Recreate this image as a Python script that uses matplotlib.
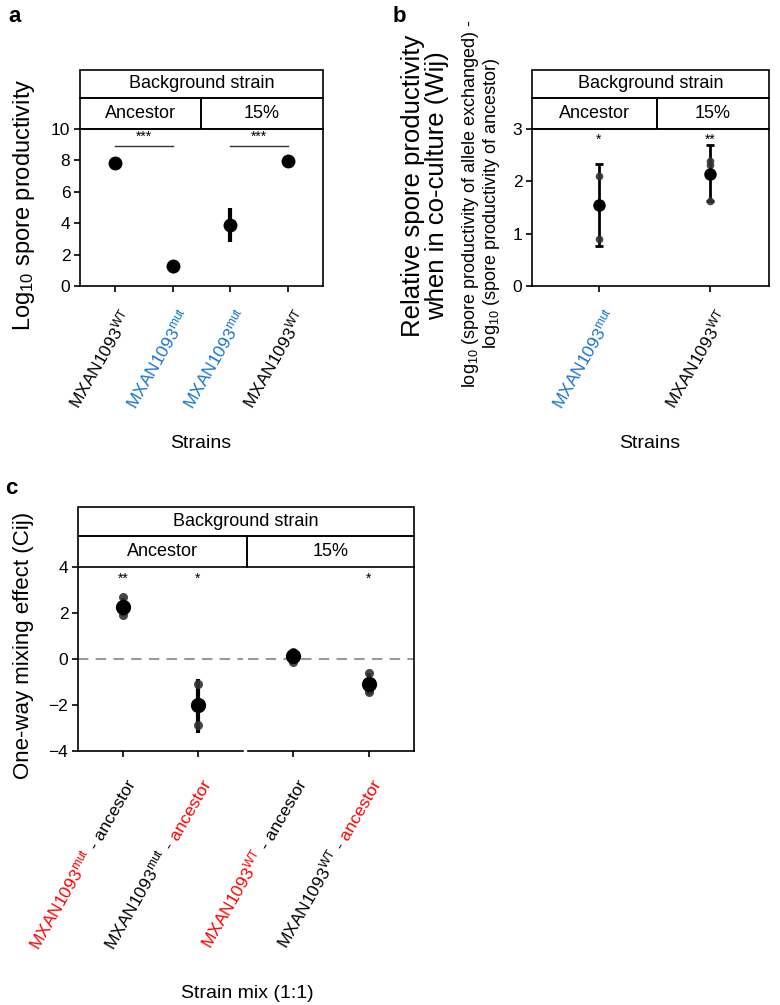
import numpy as np
import matplotlib
matplotlib.use("Agg")
import matplotlib.pyplot as plt
from matplotlib.patches import Rectangle

plt.rcParams['font.family'] = ['Liberation Sans', 'DejaVu Sans']
plt.rcParams['mathtext.fontset'] = 'custom'
plt.rcParams['mathtext.rm'] = 'Liberation Sans'
plt.rcParams['mathtext.it'] = 'Liberation Sans:italic'
plt.rcParams['mathtext.bf'] = 'Liberation Sans:bold'
plt.rcParams['axes.linewidth'] = 1.2

BLUE = '#1874CD'
RED = '#FF0000'
WT = r'MXAN1093$^{\mathrm{WT}}$'
MUT = r'MXAN1093$^{\mathrm{mut}}$'

# ---- panel a: spore productivity of single strains
a_labels = [WT, MUT, MUT, WT]
a_colors = ['black', BLUE, BLUE, 'black']
a_mean = [7.85, 1.3, 3.87, 7.95]
a_lo = [7.8, 1.2, 2.8, 7.9]
a_hi = [7.9, 1.4, 4.95, 8.0]
a_reps = [[7.85], [1.15, 1.35], [3.9], [7.95]]
a_sig = [(1, 2, '***'), (3, 4, '***')]
a_sig_y = 8.9

# ---- panel b: relative spore productivity (Wij)
b_labels = [MUT, WT]
b_colors = [BLUE, 'black']
b_mean = [1.55, 2.14]
b_lo = [0.77, 1.62]
b_hi = [2.34, 2.70]
b_reps = [[2.1, 0.9], [2.39, 2.32, 1.63]]
b_stars = ['*', '**']

# ---- panel c: one-way mixing effect (Cij), two facets of two mixes each
c_facets = ['Ancestor', '15%']
c_parts = [
    [[(MUT, RED), (' - ancestor', 'black')],
     [(MUT, 'black'), (' -', 'black'), (' ancestor', RED)]],
    [[(WT, RED), (' - ancestor', 'black')],
     [(WT, 'black'), (' -', 'black'), (' ancestor', RED)]],
]
c_mean = [[2.25, -2.02], [0.12, -1.08]]
c_lo = [[1.88, -3.2], [-0.12, -1.55]]
c_hi = [[2.65, -0.85], [0.38, -0.62]]
c_reps = [[[2.68, 2.2, 1.9], [-1.08, -2.89]],
          [[0.3, -0.12], [-0.62, -1.34, -1.45]]]
c_stars = [['**', '*'], ['', '*']]

W, H = 780, 1005
fig = plt.figure(figsize=(W / 100, H / 100), dpi=100)
renderer = fig.canvas.get_renderer()

TICK_FS = 12.5
XLAB_FS = 12.5
STRIP_FS = 13


def px_axes(l, t, r, b):
    return fig.add_axes([l / W, 1 - b / H, (r - l) / W, (b - t) / H])


def box(l, t, r, b, text, fs=STRIP_FS):
    fig.patches.append(Rectangle((l / W, 1 - b / H), (r - l) / W, (b - t) / H,
                                 transform=fig.transFigure, fill=False,
                                 lw=1.2, edgecolor='black'))
    fig.text((l + r) / 2 / W, 1 - (t + b) / 2 / H, text, ha='center',
             va='center', fontsize=fs)


def strip(l, r, t, m, b, div, names):
    box(l, t, r, m, 'Background strain')
    box(l, m, div, b, names[0])
    box(div, m, r, b, names[1])


def style(ax):
    ax.tick_params(direction='out', length=4, width=1.2, labelsize=TICK_FS,
                   pad=3)


def draw_points(ax, xs, mean, lo, hi, reps, ms_mean, ms_rep, lw, cap):
    for x, m, l, h, rp in zip(xs, mean, lo, hi, reps):
        ax.errorbar([x], [m], yerr=[[m - l], [h - m]], fmt='none',
                    ecolor='black', elinewidth=lw, capsize=cap,
                    capthick=lw, zorder=2)
        ax.plot([x] * len(rp), rp, 'o', color='#333333', ms=ms_rep,
                alpha=0.9, mec='none', zorder=3)
        ax.plot([x], [m], 'o', color='black', ms=ms_mean, mec='none', zorder=4)


def text_width_pt(s, fs):
    t = fig.text(0, 0, s, fontsize=fs)
    w = t.get_window_extent(renderer).width * 72 / fig.dpi
    t.remove()
    return w


def tick_label(ax, x, parts, fs=XLAB_FS, pad=16, dx=0, ang=60):
    # rotated label built from coloured pieces, right end hanging below tick
    a = np.deg2rad(ang)
    asc = 0.72 * fs
    bx = dx + asc * np.sin(a)
    by = -pad - asc * np.cos(a)
    off = 0.0
    for s, c in reversed(parts):
        ax.annotate(s, xy=(x, 0), xycoords=ax.get_xaxis_transform(),
                    xytext=(bx - off * np.cos(a), by - off * np.sin(a)),
                    textcoords='offset points', rotation=ang,
                    rotation_mode='anchor', ha='right', va='baseline',
                    color=c, fontsize=fs, annotation_clip=False)
        off += text_width_pt(s, fs)


# ================= panel a
axa = px_axes(80, 129, 323, 286)
xa = np.arange(1, len(a_mean) + 1)
draw_points(axa, xa, a_mean, a_lo, a_hi, a_reps, 10, 7, 3, 0)
for x1, x2, s in a_sig:
    axa.plot([x1, x2], [a_sig_y, a_sig_y], color='#333333', lw=1)
    axa.text((x1 + x2) / 2, a_sig_y + 0.15, s, ha='center', va='bottom',
             fontsize=10)
axa.set_xlim(0.4, 4.6)
axa.set_ylim(0, 10)
axa.set_yticks([0, 2, 4, 6, 8, 10])
axa.set_xticks(xa)
axa.set_xticklabels([])
style(axa)
for x, s, c in zip(xa, a_labels, a_colors):
    tick_label(axa, x, [(s, c)], dx=6)
strip(80, 323, 70, 98, 129, 201, ['Ancestor', '15%'])
fig.text(24 / W, 1 - 205 / H, r'Log$_{10}$ spore productivity', rotation=90,
         ha='center', va='center', fontsize=17)
fig.text(201 / W, 1 - 443 / H, 'Strains', ha='center', va='center', fontsize=14)
fig.text(8 / W, 1 - 16 / H, 'a', ha='left', va='center', fontsize=16,
         fontweight='bold')

# ================= panel b
axb = px_axes(532, 129, 769, 286)
xb = np.arange(1, len(b_mean) + 1)
draw_points(axb, xb, b_mean, b_lo, b_hi, b_reps, 9, 5.5, 2, 3)
for x, s in zip(xb, b_stars):
    axb.text(x, 2.8, s, ha='center', va='center', fontsize=10)
axb.set_xlim(0.4, 2.53)
axb.set_ylim(0, 3)
axb.set_yticks([0, 1, 2, 3])
axb.set_xticks(xb)
axb.set_xticklabels([])
style(axb)
for x, s, c in zip(xb, b_labels, b_colors):
    tick_label(axb, x, [(s, c)], dx=6)
strip(532, 769, 70, 98, 129, 657, ['Ancestor', '15%'])
fig.text(425 / W, 1 - 186 / H,
         'Relative spore productivity\nwhen in co-culture (Wij)',
         rotation=90, ha='center', va='center', fontsize=18.5,
         multialignment='center', linespacing=1.0)
fig.text(481 / W, 1 - 203 / H,
         'log$_{10}$ (spore productivity of allele exchanged) -\n'
         'log$_{10}$ (spore productivity of ancestor)',
         rotation=90, ha='center', va='center', fontsize=13,
         multialignment='center', linespacing=0.95)
fig.text(650 / W, 1 - 443 / H, 'Strains', ha='center', va='center', fontsize=14)
fig.text(393 / W, 1 - 16 / H, 'b', ha='left', va='center', fontsize=16,
         fontweight='bold')

# ================= panel c
c_bounds = [(78, 243), (248, 414)]
for i, (l, r) in enumerate(c_bounds):
    ax = px_axes(l, 567, r, 751)
    xc = np.arange(1, len(c_mean[i]) + 1)
    ax.axhline(0, color='#999999', lw=1.5, ls=(0, (5, 3.5)), zorder=1)
    draw_points(ax, xc, c_mean[i], c_lo[i], c_hi[i], c_reps[i], 11, 6.5, 3, 0)
    for x, s in zip(xc, c_stars[i]):
        ax.text(x, 3.5, s, ha='center', va='center', fontsize=10)
    ax.set_xlim(0.4, 2.6)
    ax.set_ylim(-4, 4)
    ax.set_xticks(xc)
    ax.set_xticklabels([])
    style(ax)
    ax.spines['top'].set_visible(False)
    if i == 0:
        ax.set_yticks([-4, -2, 0, 2, 4])
        ax.spines['right'].set_visible(False)
    else:
        ax.set_yticks([])
        ax.spines['left'].set_visible(False)
    for x, parts in zip(xc, c_parts[i]):
        tick_label(ax, x, parts, pad=19, dx=2)
strip(78, 414, 507, 536, 567, 247, c_facets)
fig.text(24 / W, 1 - 645 / H, 'One-way mixing effect (Cij)', rotation=90,
         ha='center', va='center', fontsize=16)
fig.text(247 / W, 1 - 993 / H, 'Strain mix (1:1)', ha='center', va='center',
         fontsize=14)
fig.text(5 / W, 1 - 488 / H, 'c', ha='left', va='center', fontsize=16,
         fontweight='bold')

fig.savefig('out.png', dpi=100)
